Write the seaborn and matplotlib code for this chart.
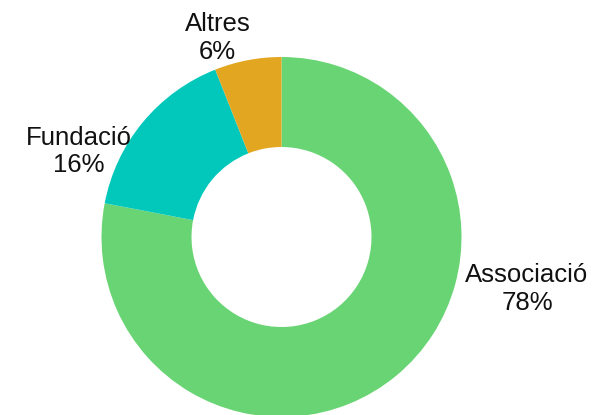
import matplotlib
matplotlib.use("Agg")
import matplotlib.pyplot as plt
import seaborn as sns

# Dades
categories = ["Associació", "Fundació", "Altres"]
percentatges = [78, 16, 6]
colors = ["#69D473", "#02C8BB", "#E3A621"]

# Posicions de les etiquetes (unitats del radi)
label_pos = [(1.364, -0.29), (-1.125, 0.475), (-0.355, 1.105)]

sns.set_theme(style="white")
plt.rcParams["font.family"] = ["Liberation Sans", "DejaVu Sans"]

fig = plt.figure(figsize=(5.95, 4.15), dpi=100)
ax = fig.add_axes([101.5 / 595, -2 / 415, 360 / 595, 360 / 415])

ax.pie(percentatges, colors=colors, startangle=90, counterclock=False,
       radius=1, wedgeprops=dict(width=0.5, linewidth=0))

for cat, pct, (x, y) in zip(categories, percentatges, label_pos):
    ax.text(x, y, f"{cat}\n{pct}%", ha="center", va="center",
            fontsize=18.5, color="#111111", linespacing=1.2)

ax.set_xlim(-1, 1)
ax.set_ylim(-1, 1)
ax.set_aspect("equal")
ax.axis("off")

fig.savefig("out.png", dpi=100)
